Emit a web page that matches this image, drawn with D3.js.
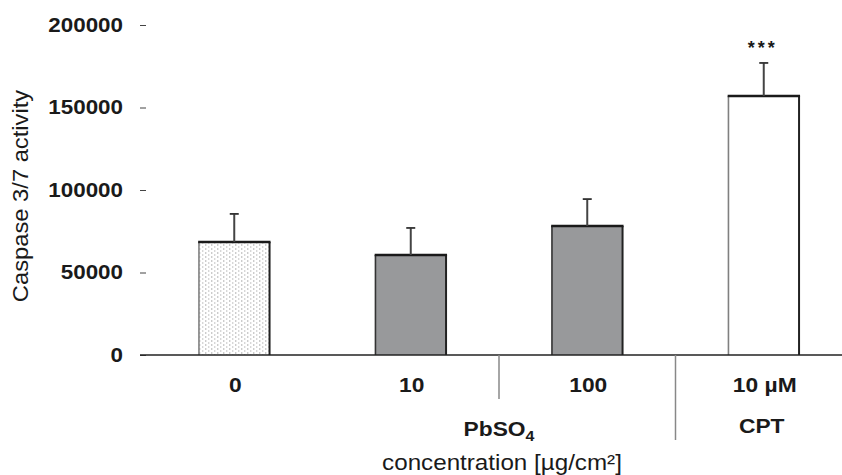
<!DOCTYPE html>
<html>
<head>
<meta charset="utf-8">
<script src="https://cdn.jsdelivr.net/npm/d3@7"></script>
<style>
  html, body { margin: 0; padding: 0; background: #fff; }
  svg { display: block; }
  text { font-family: "Liberation Sans", Arial, sans-serif; fill: #1a1a1a; }
</style>
</head>
<body>
<svg id="chart" width="842" height="475"></svg>
<script>
// ---- data ----
const categories = ["0", "10", "100", "10 µM"];
const means = [68500, 60600, 78200, 157000];
const errorTops = [85500, 77000, 94500, 177000];
const yTicks = [0, 50000, 100000, 150000, 200000];
const groupLabels = ["PbSO4", "CPT"];
const significance = ["", "", "", "***"];
const barKinds = ["dotted", "grey", "grey", "white"];

const svg = d3.select("#chart");

// horizontal stretch around the text anchor point
function stretch(sel, sx) {
  sel.each(function () {
    const t = d3.select(this);
    const x0 = +t.attr("x") || 0, y0 = +t.attr("y") || 0;
    t.attr("transform", `translate(${x0},${y0}) scale(${sx},1) translate(${-x0},${-y0})`);
  });
}

// pattern for control bar
const defs = svg.append("defs");
const pat = defs.append("pattern").attr("id", "dots")
  .attr("patternUnits", "userSpaceOnUse").attr("width", 6).attr("height", 4);
pat.append("rect").attr("width", 6).attr("height", 4).attr("fill", "#fff");
pat.append("rect").attr("x", 1).attr("y", 0.5).attr("width", 1.4).attr("height", 1).attr("fill", "#9a9a9a");
pat.append("rect").attr("x", 4).attr("y", 2.5).attr("width", 1.4).attr("height", 1).attr("fill", "#b0b0b0");

const y = d3.scaleLinear().domain([0, 200000]).range([355, 25]);
const x = d3.scaleBand().domain(categories).range([146, 852]).paddingInner(0.6).paddingOuter(0.3);

// y ticks (no axis line)
const yAxis = d3.axisLeft(y).tickValues(yTicks).tickSize(6).tickPadding(17).tickFormat(d3.format("d"));
const gy = svg.append("g").attr("transform", "translate(146,0)").call(yAxis);
gy.select(".domain").remove();
gy.selectAll(".tick line").attr("stroke", "#444").attr("stroke-width", 1);
gy.selectAll(".tick text").attr("font-size", 20).attr("font-weight", "bold")
  .attr("fill", "#1a1a1a").attr("font-family", "Liberation Sans, Arial, sans-serif")
  .call(stretch, 1.12);

// bars
const fills = { dotted: "url(#dots)", grey: "#98999b", white: "#fff" };
categories.forEach((c, i) => {
  const x0 = x(c), w = x.bandwidth(), yt = y(means[i]), yb = y(0);
  const g = svg.append("g");
  g.append("rect").attr("x", x0).attr("y", yt).attr("width", w).attr("height", yb - yt)
    .attr("fill", fills[barKinds[i]]);
  g.append("line").attr("x1", x0).attr("x2", x0).attr("y1", yt).attr("y2", yb)
    .attr("stroke", barKinds[i] === "grey" ? "#333" : "#808080").attr("stroke-width", 1.6);
  g.append("line").attr("x1", x0 + w).attr("x2", x0 + w).attr("y1", yt).attr("y2", yb)
    .attr("stroke", "#222").attr("stroke-width", 2);
  g.append("line").attr("x1", x0 - 0.8).attr("x2", x0 + w + 1).attr("y1", yt).attr("y2", yt)
    .attr("stroke", "#1a1a1a").attr("stroke-width", 2.4);
  const cx = x0 + w / 2;
  g.append("line").attr("x1", cx).attr("x2", cx).attr("y1", yt).attr("y2", y(errorTops[i]))
    .attr("stroke", "#444").attr("stroke-width", 2);
  g.append("line").attr("x1", cx - 4.5).attr("x2", cx + 4.5).attr("y1", y(errorTops[i])).attr("y2", y(errorTops[i]))
    .attr("stroke", "#333").attr("stroke-width", 1.8);
  if (significance[i]) {
    svg.append("text").attr("x", cx - 1).attr("y", 54).attr("text-anchor", "middle")
      .attr("font-size", 18).attr("font-weight", "bold").attr("letter-spacing", "3px")
      .attr("fill", "#555").text(significance[i]);
  }
});

// baseline
svg.append("line").attr("x1", 140).attr("x2", 842).attr("y1", y(0)).attr("y2", y(0))
  .attr("stroke", "#222").attr("stroke-width", 1.5);

// category labels
categories.forEach((c) => {
  svg.append("text").attr("x", x(c) + x.bandwidth() / 2 + 1).attr("y", 392)
    .attr("text-anchor", "middle").attr("font-size", 20).attr("font-weight", "bold")
    .text(c).call(stretch, 1.14);
});

// group dividers
const mid1 = (x(categories[1]) + x(categories[2]) + x.bandwidth()) / 2;
const mid2 = (x(categories[2]) + x(categories[3]) + x.bandwidth()) / 2;
svg.append("line").attr("x1", mid1).attr("x2", mid1).attr("y1", y(0)).attr("y2", 399)
  .attr("stroke", "#888").attr("stroke-width", 1.5);
svg.append("line").attr("x1", mid2).attr("x2", mid2).attr("y1", y(0)).attr("y2", 440)
  .attr("stroke", "#888").attr("stroke-width", 1.5);

// group labels
const pb = svg.append("text").attr("x", mid1).attr("y", 436).attr("text-anchor", "middle")
  .attr("font-size", 20).attr("font-weight", "bold");
pb.append("tspan").text("PbSO");
pb.append("tspan").attr("font-size", 14).attr("dy", 5).text("4");
pb.call(stretch, 1.14);
svg.append("text").attr("x", x(categories[3]) + x.bandwidth() / 2 - 2).attr("y", 433)
  .attr("text-anchor", "middle").attr("font-size", 20).attr("font-weight", "bold")
  .text(groupLabels[1]).call(stretch, 1.14);

// axis titles
svg.append("text").attr("x", 502).attr("y", 470).attr("text-anchor", "middle")
  .attr("font-size", 22).text("concentration [µg/cm²]").call(stretch, 1.1);
svg.append("text").attr("transform", "translate(28,196) rotate(-90) scale(1.08,1)").attr("text-anchor", "middle")
  .attr("font-size", 22).text("Caspase 3/7 activity");
</script>
</body>
</html>
